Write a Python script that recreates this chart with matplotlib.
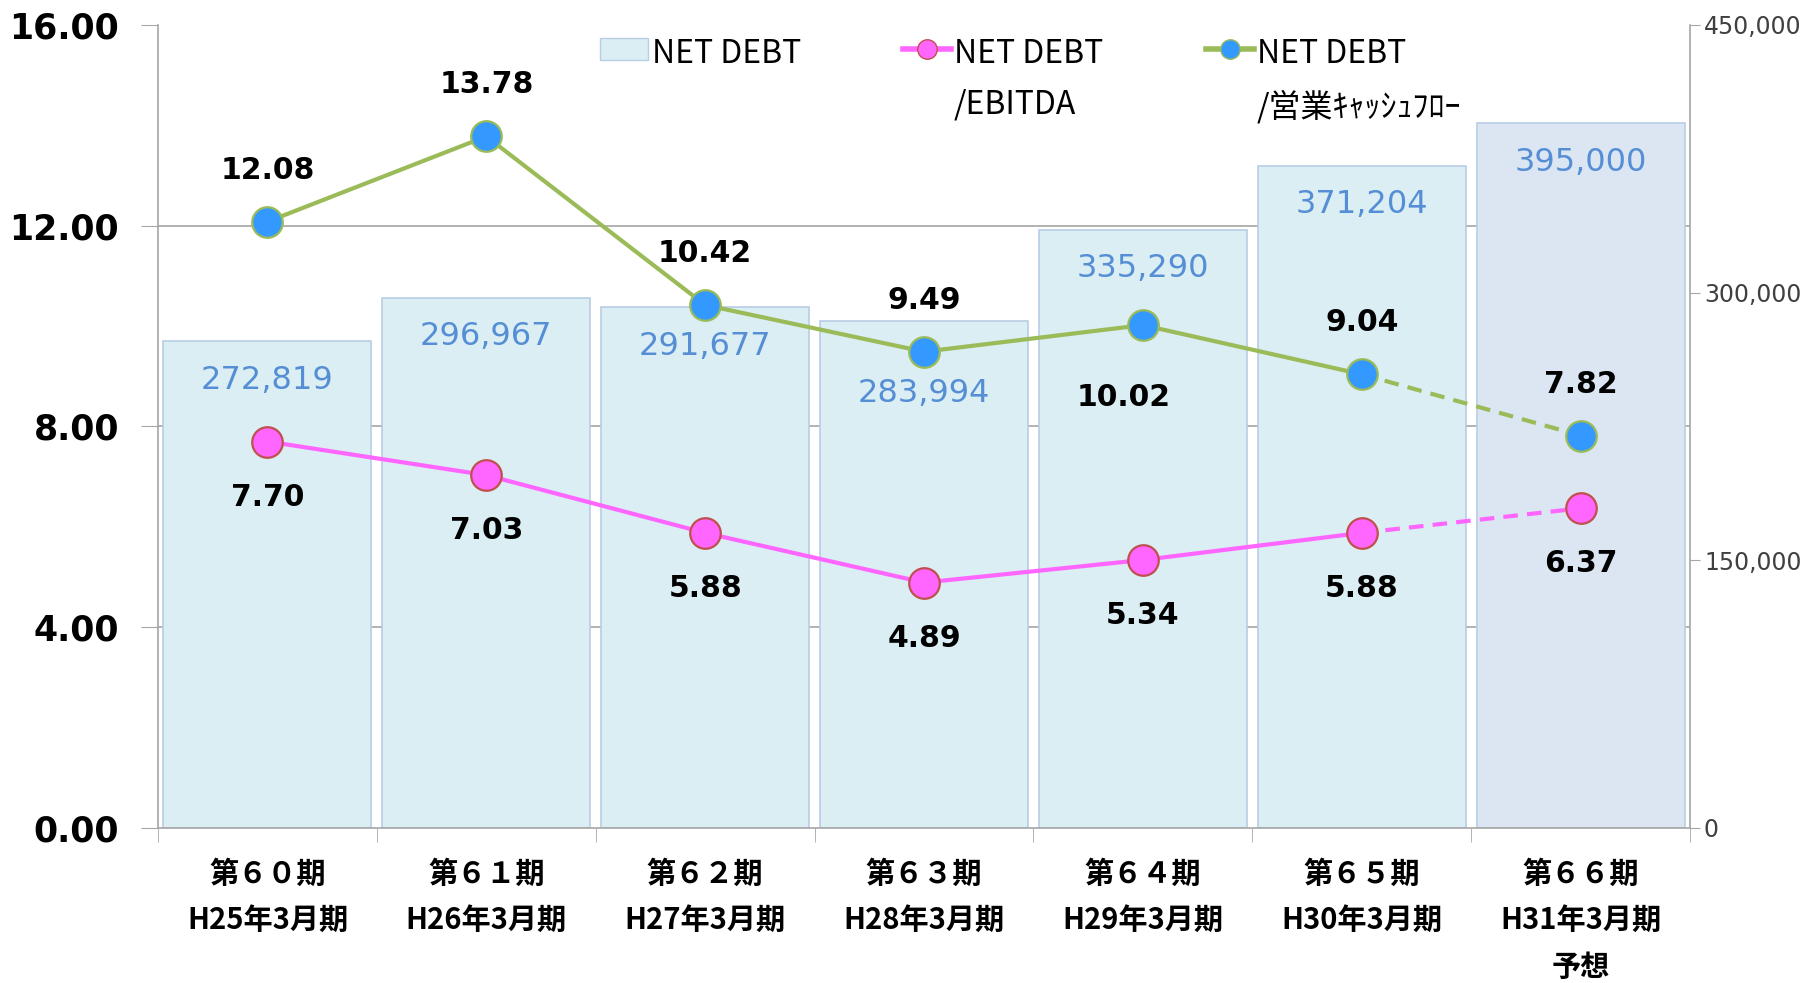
import numpy as np
import matplotlib.pyplot as plt
from matplotlib.ticker import FuncFormatter, FixedLocator
from matplotlib.patches import Patch
from matplotlib.lines import Line2D

plt.rcParams['font.family'] = ['DejaVu Sans', 'Noto Sans CJK JP']

periods = ['第６０期\nH25年3月期', '第６１期\nH26年3月期', '第６２期\nH27年3月期',
           '第６３期\nH28年3月期', '第６４期\nH29年3月期', '第６５期\nH30年3月期',
           '第６６期\nH31年3月期\n予想']
net_debt = [272819, 296967, 291677, 283994, 335290, 371204, 395000]
debt_ebitda = [7.70, 7.03, 5.88, 4.89, 5.34, 5.88, 6.37]
debt_cf = [12.08, 13.78, 10.42, 9.49, 10.02, 9.04, 7.82]

# label offsets (points)
bar_dy = [-28, -28, -28, -52, -28, -28, -28]
cf_off = [(0, 37), (0, 37), (0, 37), (0, 37), (-14, -52), (0, 37), (0, 37)]
ebitda_dy = -40

cjk = ['Noto Sans CJK JP', 'DejaVu Sans']
grid_c = '#A6A6A6'
pink, pink_edge = '#FF66FF', '#C0504D'
green, blue = '#9BBB59', '#3399FF'

fig = plt.figure(figsize=(18.06, 9.83), dpi=100)
axb = fig.add_axes([0.0875, 0.1577, 0.8483, 0.8169])
ax = axb.twinx()

x = np.arange(len(periods))

# bars on the right scale
colors = ['#DAEEF3'] * 6 + ['#DCE6F2']
axb.bar(x, net_debt, width=0.95, color=colors, edgecolor='#B9CDE5', linewidth=1.2, zorder=2)
axb.set_ylim(0, 450000)
axb.set_xlim(-0.5, len(periods) - 0.5)
axb.yaxis.tick_right()
axb.yaxis.set_major_locator(FixedLocator([0, 150000, 300000, 450000]))
axb.yaxis.set_major_formatter(FuncFormatter(lambda v, p: f'{v:,.0f}'))
axb.yaxis.set_minor_locator(FixedLocator(np.linspace(0, 450000, 5)))
axb.tick_params(axis='y', which='major', labelsize=17, length=7, color=grid_c,
                labelcolor='#404040', pad=3)
axb.tick_params(axis='y', which='minor', length=0)
axb.grid(axis='y', which='minor', color=grid_c, linewidth=1.2, zorder=0)
axb.set_axisbelow(True)
for i, v in enumerate(net_debt):
    axb.annotate(f'{v:,}', (x[i], v), xytext=(0, bar_dy[i]), textcoords='offset points',
                 ha='center', va='center', fontsize=23, color='#558ED5')

axb.set_xticks(x)
axb.set_xticklabels(periods, family=cjk, fontweight='bold', fontsize=21, linespacing=1.7)
axb.set_xticks(np.arange(-0.5, len(periods)), minor=True)
axb.tick_params(axis='x', which='major', length=0, pad=22)
axb.tick_params(axis='x', which='minor', length=10, color=grid_c)

for s in ['left', 'right', 'bottom']:
    axb.spines[s].set_color(grid_c)
    axb.spines[s].set_linewidth(1.2)
axb.spines['top'].set_visible(False)

# ratio lines on the left scale, drawn above the bars
ax.set_zorder(axb.get_zorder() + 1)
ax.patch.set_visible(False)
ax.yaxis.tick_left()
ax.set_ylim(0, 16)
ax.set_yticks([0, 4, 8, 12, 16])
ax.yaxis.set_major_formatter(FuncFormatter(lambda v, p: f'{v:.2f}'))
ax.tick_params(axis='y', labelsize=25, length=12, color=grid_c, pad=16)
for t in ax.get_yticklabels():
    t.set_fontweight('bold')
for s in ax.spines.values():
    s.set_visible(False)

ax.plot(x[:6], debt_ebitda[:6], color=pink, lw=3, zorder=3)
ax.plot(x[5:], debt_ebitda[5:], color=pink, lw=3, ls=(0, (3.5, 2.2)), zorder=3)
ax.plot(x, debt_ebitda, ls='none', marker='o', ms=22, mfc=pink, mec=pink_edge, mew=1.6, zorder=4)
ax.plot(x[:6], debt_cf[:6], color=green, lw=3, zorder=3)
ax.plot(x[5:], debt_cf[5:], color=green, lw=3, ls=(0, (3.5, 2.2)), zorder=3)
ax.plot(x, debt_cf, ls='none', marker='o', ms=22, mfc=blue, mec=green, mew=1.6, zorder=4)

for i in range(len(x)):
    ax.annotate(f'{debt_ebitda[i]:.2f}', (x[i], debt_ebitda[i]), xytext=(0, ebitda_dy),
                textcoords='offset points', ha='center', va='center',
                fontsize=21.5, fontweight='bold', color='black')
    ax.annotate(f'{debt_cf[i]:.2f}', (x[i], debt_cf[i]), xytext=cf_off[i],
                textcoords='offset points', ha='center', va='center',
                fontsize=21.5, fontweight='bold', color='black')

handles = [Patch(facecolor='#DAEEF3', edgecolor='#B9CDE5'),
           Line2D([], [], color=pink, lw=4, marker='o', ms=14, mfc=pink, mec=pink_edge),
           Line2D([], [], color=green, lw=4, marker='o', ms=14, mfc=blue, mec=green)]
labels = ['NET DEBT', 'NET DEBT\n/EBITDA', 'NET DEBT\n/営業ｷｬｯｼｭﾌﾛｰ']
leg = ax.legend(handles, labels, ncol=3, loc='upper left', bbox_to_anchor=(0.27, 1.02),
                frameon=False, prop={'family': cjk, 'size': 23}, handlelength=1.5,
                handletextpad=0.1, columnspacing=3.2, labelspacing=0.2)
for t in leg.get_texts():
    t.set_linespacing(1.75)
leg._legend_handle_box.align = 'top'
for col in leg._legend_handle_box.get_children():
    col.align = 'left'
    for item in col.get_children():
        item.align = 'top'

fig.savefig('out.png', dpi=100)
